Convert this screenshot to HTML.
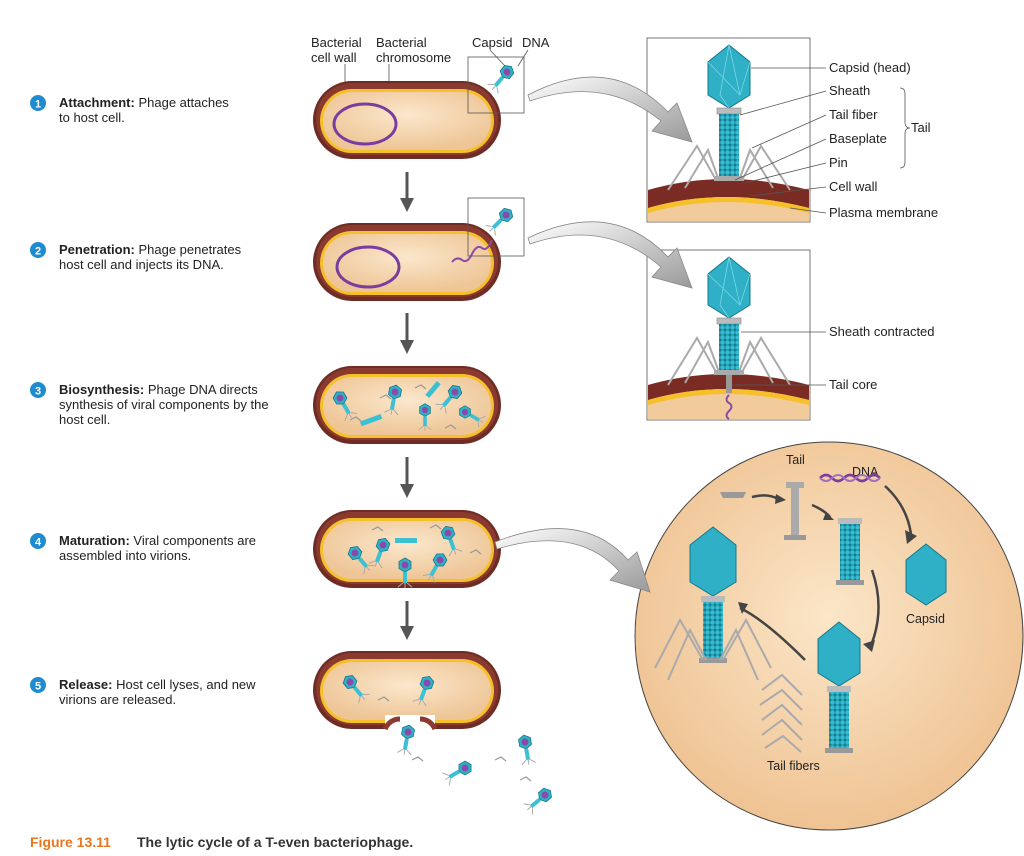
<!DOCTYPE html>
<html><head><meta charset="utf-8"><style>
body{margin:0;background:#fff;}
svg{display:block;font-family:"Liberation Sans",Arial,sans-serif;}
.t{font-size:13px;fill:#222;}
.s{font-size:12.5px;fill:#222;}
.b{font-weight:bold;}
</style></head><body>
<svg width="1024" height="856" viewBox="0 0 1024 856" xmlns="http://www.w3.org/2000/svg">
<defs>
<radialGradient id="pe" cx="50%" cy="40%" r="60%"><stop offset="0" stop-color="#fbe7cc"/><stop offset="1" stop-color="#eec596"/></radialGradient>
<radialGradient id="circ" cx="50%" cy="45%" r="55%"><stop offset="0" stop-color="#fbe6c8"/><stop offset="1" stop-color="#efc393"/></radialGradient>
<linearGradient id="arr" x1="0" y1="0" x2="1" y2="1"><stop offset="0" stop-color="#fff"/><stop offset="1" stop-color="#999"/></linearGradient>
<pattern id="bead" width="5" height="5" patternUnits="userSpaceOnUse"><rect width="5" height="5" fill="#157f94"/><circle cx="2.5" cy="2.5" r="2.2" fill="#36bdd2"/></pattern>
<g id="cell">
<rect x="0" y="0" width="188" height="78" rx="39" fill="#6e2c24"/>
<rect x="3" y="2" width="182" height="72" rx="36" fill="#8a3a2e"/>
<rect x="7" y="8" width="174" height="64" rx="32" fill="#f5c02a"/>
<rect x="10" y="11" width="168" height="58" rx="29" fill="url(#pe)"/>
</g>
<g id="mini">
<polygon points="0,-7 6,-3.5 6,3.5 0,7 -6,3.5 -6,-3.5" fill="#2fb0c6" stroke="#16788c" stroke-width="0.8"/>
<circle cx="0" cy="0" r="3.5" fill="#8a4aa8"/>
<rect x="-2" y="7" width="4" height="11" fill="#3cc0d4"/>
<path d="M-2 18 l-5 4 M2 18 l5 4 M0 18 l0 5" stroke="#aaa" stroke-width="1" fill="none"/>
</g>
<g id="tf"><path d="M0 0 l6 -3 l5 4" stroke="#999" stroke-width="1.2" fill="none"/></g>
</defs>

<g class="t">
<circle cx="38" cy="103" r="8" fill="#1f8bd0"/><text x="38" y="107.5" text-anchor="middle" fill="#fff" class="b" font-size="11">1</text>
<text x="59" y="107"><tspan class="b">Attachment:</tspan> Phage attaches</text><text x="59" y="122">to host cell.</text>
<circle cx="38" cy="250" r="8" fill="#1f8bd0"/><text x="38" y="254.5" text-anchor="middle" fill="#fff" class="b" font-size="11">2</text>
<text x="59" y="254"><tspan class="b">Penetration:</tspan> Phage penetrates</text><text x="59" y="269">host cell and injects its DNA.</text>
<circle cx="38" cy="390" r="8" fill="#1f8bd0"/><text x="38" y="394.5" text-anchor="middle" fill="#fff" class="b" font-size="11">3</text>
<text x="59" y="394"><tspan class="b">Biosynthesis:</tspan> Phage DNA directs</text><text x="59" y="409">synthesis of viral components by the</text><text x="59" y="424">host cell.</text>
<circle cx="38" cy="541" r="8" fill="#1f8bd0"/><text x="38" y="545.5" text-anchor="middle" fill="#fff" class="b" font-size="11">4</text>
<text x="59" y="545"><tspan class="b">Maturation:</tspan> Viral components are</text><text x="59" y="560">assembled into virions.</text>
<circle cx="38" cy="685" r="8" fill="#1f8bd0"/><text x="38" y="689.5" text-anchor="middle" fill="#fff" class="b" font-size="11">5</text>
<text x="59" y="689"><tspan class="b">Release:</tspan> Host cell lyses, and new</text><text x="59" y="704">virions are released.</text>
</g>

<g class="t">
<text x="311" y="47">Bacterial</text><text x="311" y="62">cell wall</text>
<text x="376" y="47">Bacterial</text><text x="376" y="62">chromosome</text>
<text x="472" y="47">Capsid</text><text x="522" y="47">DNA</text>
</g>
<path d="M345 64 L345 84 M389 64 L389 110 M490 50 L505 66 M528 50 L518 66" stroke="#555" stroke-width="0.8" fill="none"/>

<use href="#cell" x="313" y="81"/>
<ellipse cx="365" cy="124" rx="31" ry="20" fill="none" stroke="#7a3d9e" stroke-width="3"/>
<g transform="translate(507,72) rotate(40)"><use href="#mini"/></g>
<rect x="468" y="57" width="56" height="56" fill="none" stroke="#555" stroke-width="0.8"/>

<use href="#cell" x="313" y="223"/>
<ellipse cx="368" cy="267" rx="31" ry="20" fill="none" stroke="#7a3d9e" stroke-width="3"/>
<g transform="translate(506,215) rotate(45)"><use href="#mini"/></g>
<path d="M452 262 q5 -6 10 -2 t10 -6 t10 -6 t10 -8" stroke="#8a4aa8" stroke-width="2" fill="none"/>
<rect x="468" y="198" width="56" height="58" fill="none" stroke="#555" stroke-width="0.8"/>

<use href="#cell" x="313" y="366"/>
<g>
<use href="#mini" transform="translate(340,398) rotate(-30)"/>
<use href="#mini" transform="translate(395,392) rotate(10)"/>
<use href="#mini" transform="translate(455,392) rotate(40)"/>
<use href="#mini" transform="translate(425,410) rotate(0) scale(0.9)"/>
<use href="#mini" transform="translate(465,412) rotate(-60) scale(0.9)"/>
<rect x="360" y="418" width="22" height="5" fill="#3cc0d4" transform="rotate(-20 370 420)"/>
<rect x="430" y="380" width="5" height="18" fill="#3cc0d4" transform="rotate(40 432 390)"/>
<use href="#tf" x="350" y="420"/><use href="#tf" x="415" y="388"/><use href="#tf" x="445" y="428"/><use href="#tf" x="380" y="398"/>
</g>

<use href="#cell" x="313" y="510"/>
<g>
<use href="#mini" transform="translate(355,553) rotate(-40)"/>
<use href="#mini" transform="translate(383,545) rotate(20)"/>
<use href="#mini" transform="translate(405,565) rotate(0)"/>
<use href="#mini" transform="translate(448,533) rotate(-20)"/>
<use href="#mini" transform="translate(440,560) rotate(30)"/>
<rect x="395" y="538" width="22" height="5" fill="#3cc0d4"/>
<use href="#tf" x="372" y="530"/><use href="#tf" x="430" y="528"/><use href="#tf" x="470" y="553"/>
</g>

<use href="#cell" x="313" y="651"/>
<rect x="385" y="715" width="50" height="20" fill="#fff"/>
<path d="M385 729 q5 -10 15 -10 M435 729 q-5 -10 -15 -10" stroke="#8a3a2e" stroke-width="5" fill="none"/>
<use href="#mini" transform="translate(350,682) rotate(-40)"/>
<use href="#mini" transform="translate(427,683) rotate(20)"/>
<use href="#mini" transform="translate(408,732) rotate(10)"/>
<use href="#mini" transform="translate(465,768) rotate(60)"/>
<use href="#mini" transform="translate(525,742) rotate(-10)"/>
<use href="#mini" transform="translate(545,795) rotate(50)"/>
<use href="#tf" x="378" y="700"/><use href="#tf" x="412" y="760"/><use href="#tf" x="495" y="760"/><use href="#tf" x="520" y="780"/>

<g fill="#555" stroke="#555" stroke-width="3">
<line x1="407" y1="172" x2="407" y2="198"/><polygon points="400,198 414,198 407,212" stroke="none"/>
<line x1="407" y1="313" x2="407" y2="340"/><polygon points="400,340 414,340 407,354" stroke="none"/>
<line x1="407" y1="457" x2="407" y2="484"/><polygon points="400,484 414,484 407,498" stroke="none"/>
<line x1="407" y1="601" x2="407" y2="626"/><polygon points="400,626 414,626 407,640" stroke="none"/>
</g>

<!-- Box 1 -->
<rect x="647" y="38" width="163" height="184" fill="#fff" stroke="#555" stroke-width="0.8"/>
<path d="M648 190 Q725 168 809 190 L809 221 L648 221 Z" fill="#f1cb9c"/>
<path d="M648 190 Q725 168 809 190 L809 208 Q725 186 648 208 Z" fill="#7a2c24"/>
<path d="M648 208 Q725 186 809 208 L809 213 Q725 191 648 213 Z" fill="#f5c02a"/>
<polygon points="729,45 750,62 750,95 729,108 708,95 708,62" fill="#2fb0c6" stroke="#16788c" stroke-width="1"/>
<path d="M729 45 L720 95 L729 108 M729 45 L740 95 M708 62 L740 95 L750 62" stroke="#7fdbe8" stroke-width="0.7" fill="none"/>
<rect x="717" y="108" width="24" height="6" fill="#bbb" stroke="#888" stroke-width="0.6"/>
<rect x="719" y="114" width="20" height="62" fill="url(#bead)"/>
<rect x="714" y="176" width="30" height="5" fill="#aaa"/>
<path d="M716 180 L697 146 L668 190 M718 178 L708 150 L685 188 M742 180 L761 146 L790 190 M740 178 L750 150 L773 188" stroke="#aaa" stroke-width="2" fill="none"/>
<g stroke="#555" stroke-width="0.8" fill="none">
<path d="M751 68 L826 68 M740 115 L826 91 M752 148 L826 115 M735 180 L826 139 M745 183 L826 163 M750 196 L826 187 M790 208 L826 213"/>
<path d="M900 88 q5 0 5 6 v28 q0 6 5 6 q-5 0 -5 6 v28 q0 6 -5 6"/>
</g>
<g class="t">
<text x="829" y="72">Capsid (head)</text><text x="829" y="95">Sheath</text><text x="829" y="119">Tail fiber</text>
<text x="829" y="143">Baseplate</text><text x="829" y="167">Pin</text><text x="829" y="191">Cell wall</text>
<text x="829" y="217">Plasma membrane</text><text x="911" y="132">Tail</text>
</g>

<!-- Box 2 -->
<rect x="647" y="250" width="163" height="170" fill="#fff" stroke="#555" stroke-width="0.8"/>
<path d="M648 385 Q725 363 809 385 L809 419 L648 419 Z" fill="#f1cb9c"/>
<path d="M648 385 Q725 363 809 385 L809 400 Q725 378 648 400 Z" fill="#7a2c24"/>
<path d="M648 400 Q725 378 809 400 L809 405 Q725 383 648 405 Z" fill="#f5c02a"/>
<polygon points="729,257 750,274 750,305 729,318 708,305 708,274" fill="#2fb0c6" stroke="#16788c"/>
<path d="M729 257 L720 305 L729 318 M729 257 L740 305 M708 274 L740 305 L750 274" stroke="#7fdbe8" stroke-width="0.7" fill="none"/>
<rect x="717" y="318" width="24" height="6" fill="#bbb" stroke="#888" stroke-width="0.6"/>
<rect x="719" y="324" width="20" height="46" fill="url(#bead)"/>
<rect x="714" y="370" width="30" height="5" fill="#aaa"/>
<rect x="726" y="375" width="6" height="18" fill="#999"/>
<path d="M716 372 L697 338 L668 385 M719 372 L708 342 L685 383 M742 372 L761 338 L790 385 M739 372 L750 342 L773 383" stroke="#aaa" stroke-width="2" fill="none"/>
<path d="M729 395 q-5 5 0 8 t0 8 t0 8" stroke="#8a4aa8" stroke-width="2" fill="none"/>
<path d="M741 332 L826 332 M732 385 L826 385" stroke="#555" stroke-width="0.8"/>
<text class="t" x="829" y="336">Sheath contracted</text>
<text class="t" x="829" y="389">Tail core</text>

<!-- Circle -->
<circle cx="829" cy="636" r="194" fill="url(#circ)" stroke="#444" stroke-width="1"/>
<text class="s" x="786" y="464">Tail</text><text class="s" x="852" y="476">DNA</text>
<text class="s" x="906" y="623">Capsid</text><text class="s" x="767" y="770">Tail fibers</text>
<path d="M720 492 h26 l-3 6 h-20 Z" fill="#999"/>
<rect x="786" y="482" width="18" height="6" fill="#aaa"/><rect x="791" y="488" width="8" height="48" fill="#aaa"/><rect x="784" y="535" width="22" height="5" fill="#999"/>
<path d="M820 478 q6 -6 12 0 t12 0 t12 0 t12 0 t12 0" stroke="#7a3d9e" stroke-width="2.5" fill="none"/>
<path d="M820 478 q6 6 12 0 t12 0 t12 0 t12 0 t12 0" stroke="#a070c0" stroke-width="2" fill="none"/>
<rect x="838" y="518" width="24" height="6" fill="#bbb"/><rect x="840" y="524" width="20" height="56" fill="url(#bead)"/><rect x="836" y="580" width="28" height="5" fill="#999"/>
<polygon points="926,544 946,560 946,592 926,605 906,592 906,560" fill="#2fb0c6" stroke="#16788c"/>
<polygon points="839,622 860,639 860,673 839,686 818,673 818,639" fill="#2fb0c6" stroke="#16788c"/>
<rect x="827" y="686" width="24" height="6" fill="#bbb"/><rect x="829" y="692" width="20" height="56" fill="url(#bead)"/><rect x="825" y="748" width="28" height="5" fill="#999"/>
<polygon points="713,527 736,545 736,582 713,596 690,582 690,545" fill="#2fb0c6" stroke="#16788c"/>
<rect x="701" y="596" width="24" height="6" fill="#bbb"/><rect x="703" y="602" width="20" height="56" fill="url(#bead)"/><rect x="699" y="658" width="28" height="5" fill="#999"/>
<path d="M703 660 L680 620 L655 668 M706 660 L690 630 L668 680 M723 660 L746 620 L771 668 M720 660 L736 630 L758 680" stroke="#aaa" stroke-width="2" fill="none"/>
<g stroke="#aaa" stroke-width="2" fill="none">
<path d="M762 690 l20 -15 l20 20 M760 705 l22 -15 l20 20 M762 720 l20 -15 l20 20 M762 735 l20 -15 l20 20 M765 748 l18 -12 l18 16"/>
</g>
<g stroke="#444" stroke-width="2.5" fill="none">
<path d="M752 497 q16 -4 26 2"/><path d="M812 505 q12 5 18 12"/><path d="M885 486 q22 20 26 48"/>
<path d="M872 570 q14 40 -2 78"/><path d="M805 660 q-40 -40 -65 -52"/>
</g>
<g fill="#444">
<polygon points="776,494 786,500 775,504"/><polygon points="826,512 834,520 823,520"/><polygon points="905,530 917,536 907,544"/>
<polygon points="863,644 872,652 875,640"/><polygon points="738,602 748,604 742,614"/>
</g>

<!-- curved arrows (on top) -->
<g fill="url(#arr)" stroke="#888" stroke-width="0.8">
<path d="M528 95 Q610 52 668 112 L677 103 L692 142 L652 131 L661 121 Q605 75 530 101 Z"/>
<path d="M528 238 Q612 198 668 257 L677 248 L692 288 L652 277 L661 267 Q605 218 530 244 Z"/>
<path d="M495 542 Q582 508 628 560 L637 552 L650 592 L610 580 L619 571 Q577 525 497 549 Z"/>
</g>

<text x="30" y="847" font-size="14" font-weight="bold" fill="#e8761e">Figure 13.11</text>
<text x="137" y="847" font-size="14" font-weight="bold" fill="#333">The lytic cycle of a T-even bacteriophage.</text>
</svg>
</body></html>
